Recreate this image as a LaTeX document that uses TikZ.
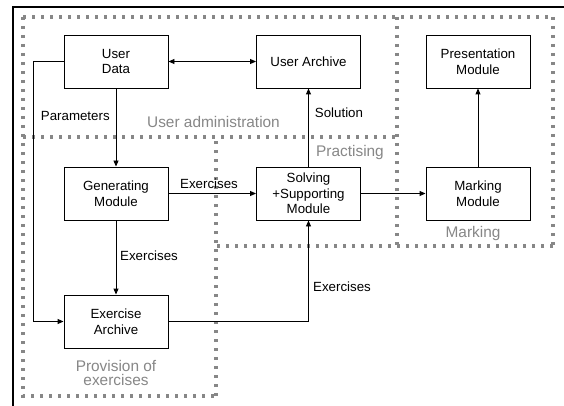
\documentclass[tikz,border=0pt]{standalone}
\usepackage{fontspec}
\setmainfont{Liberation Sans}
\usetikzlibrary{arrows.meta}
\definecolor{regiongray}{RGB}{135,135,135}
\definecolor{labelgray}{RGB}{135,135,135}
\tikzset{
  module/.style={draw=black, line width=0.9pt, minimum width=104pt, minimum height=53pt,
    align=center, font=\fontsize{13.3}{15.5}\selectfont, inner sep=1pt, fill=white},
  conn/.style={draw=black, line width=0.9pt, -{Triangle[length=6pt,width=5pt]}},
  biconn/.style={draw=black, line width=0.9pt, {Triangle[length=6pt,width=5pt]}-{Triangle[length=6pt,width=5pt]}},
  plain/.style={draw=black, line width=0.9pt},
  edgelabel/.style={font=\fontsize{13.3}{15}\selectfont, inner sep=0pt},
  region/.style={draw=regiongray, line width=3.2pt, dash pattern=on 3.2pt off 5.8pt},
  regionlabel/.style={text=labelgray, font=\fontsize{15.4}{16}\selectfont, inner sep=0pt, align=center},
  frameline/.style={draw=black, line width=2pt}
}
\begin{document}
\begin{tikzpicture}[x=1pt,y=-1pt]
\useasboundingbox (0,0) rectangle (564,406);
\fill[white] (0,0) rectangle (564,406);
% frame
\draw[frameline] (13,406) -- (13,7) -- (564,7);
% regions
\draw[region] (23,17) -- (553,17);
\draw[region] (553,17) -- (553,246);
\draw[region] (553,246) -- (216,246);
\draw[region] (23,17) -- (23,396) -- (216,396);
\draw[region] (216,396) -- (216,137);
\draw[region] (23,137) -- (397,137);
\draw[region] (397,17) -- (397,246);
% region labels
\node[regionlabel] (lua) at (213.5,122) {User administration};
\node[regionlabel] (lpr) at (350,153) {Practising};
\node[regionlabel] (lma) at (473,234) {Marking};
\node[regionlabel] (lpe) at (116,373) {Provision of\\[-1.5pt]exercises};
% modules
\node[module] (userdata) at (116,61.5) {User\\Data};
\node[module] (userarchive) at (308.5,61.5) {User Archive};
\node[module] (presentation) at (478,61.5) {Presentation\\Module};
\node[module] (generating) at (116,193.5) {Generating\\Module};
\node[module] (solving) at (308.5,193.5) {Solving\\+Supporting\\Module};
\node[module] (marking) at (478,193.5) {Marking\\Module};
\node[module] (exarchive) at (116,321.5) {Exercise\\Archive};
% connectors
\draw[biconn] (userdata.east) -- (userarchive.west);
\draw[conn] (userdata.west) -- ++(-30,0) |- (exarchive.west);
\draw[conn] (userdata.south) -- (generating.north);
\draw[conn] (generating.east) -- (solving.west);
\draw[conn] (generating.south) -- (exarchive.north);
\draw[conn] (exarchive.east) -| (solving.south);
\draw[conn] (solving.north) -- (userarchive.south);
\draw[conn] (solving.east) -- (marking.west);
\draw[conn] (marking.north) -- (presentation.south);
% connector labels
\node[edgelabel] (lparam) at (75.3,116) {Parameters};
\node[edgelabel] (lex1) at (209,183.5) {Exercises};
\node[edgelabel] (lex2) at (149,256) {Exercises};
\node[edgelabel] (lex3) at (342,287) {Exercises};
\node[edgelabel] (lsol) at (339,113) {Solution};
\end{tikzpicture}
\end{document}
